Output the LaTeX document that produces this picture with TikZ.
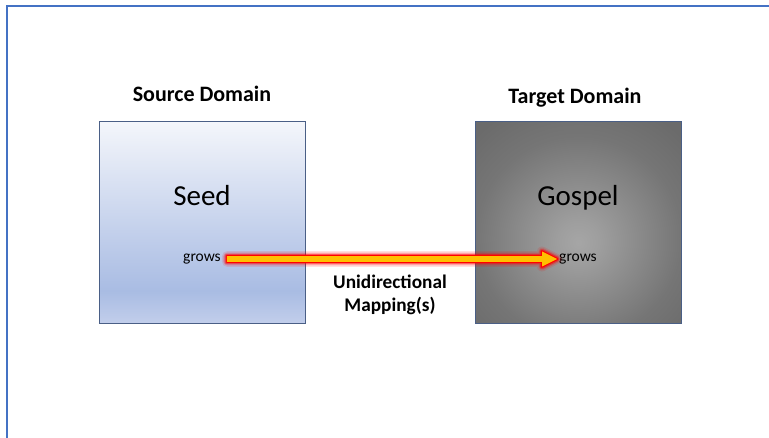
\documentclass[tikz,border=0pt]{standalone}
\usepackage{fontspec}
\setmainfont{Carlito}
\usetikzlibrary{calc}
\definecolor{framblue}{HTML}{4472C4}
\definecolor{boxedge}{HTML}{4A5F86}
\definecolor{seedtop}{HTML}{F4F6FB}
\definecolor{seedmid}{HTML}{A9BCE3}
\definecolor{seedbot}{HTML}{C2CEEB}
\definecolor{arrowfill}{HTML}{FFC000}
% the visible part of an axis shading runs from 25bp (bottom) to 75bp (top)
\pgfdeclareverticalshading{seedshade}{100bp}{
  color(0bp)=(seedbot); color(25bp)=(seedbot); color(33bp)=(seedmid);
  color(48bp)=(seedmid!65!seedtop); color(75bp)=(seedtop); color(100bp)=(seedtop)}
\pgfdeclareradialshading{gospelshade}{\pgfpoint{0bp}{-5bp}}{
  color(0bp)=(black!35); color(5bp)=(black!38); color(25bp)=(black!54); color(35bp)=(black!58); color(100bp)=(black!58)}
\tikzset{
  frameline/.style={draw=framblue, line width=2.6pt},
  domainbox/.style={draw=boxedge, line width=0.8pt, minimum width=206pt, minimum height=202pt, inner sep=0pt},
  heading/.style={font=\bfseries\fontsize{22}{26}\selectfont, anchor=base},
  concept/.style={font=\fontsize{29}{33}\selectfont, anchor=base},
  relation/.style={font=\fontsize{15.5}{18}\selectfont, inner sep=1pt},
  maplabel/.style={font=\bfseries\fontsize{19.3}{23.5}\selectfont, align=center},
}
\begin{document}
\begin{tikzpicture}[x=1pt, y=-1pt]
  \useasboundingbox (0,0) rectangle (769,438);
  \fill[white] (0,0) rectangle (769,438);
  % outer frame: only the top and left edges are visible
  \draw[frameline] (7,440) -- (7,6.2) -- (771,6.2);

  % the two domains
  \node[domainbox, shading=seedshade, anchor=north west] (src) at (99,121) {};
  \node[domainbox, shading=gospelshade, anchor=north west] (tgt) at (475,121) {};
  \draw[boxedge, line width=0.8pt] (src.north west) rectangle (src.south east);
  \draw[boxedge, line width=0.8pt] (tgt.north west) rectangle (tgt.south east);

  \node[heading] (srctitle) at (202,101.7) {Source Domain};
  \node[heading] (tgttitle) at (575,104) {Target Domain};

  \node[concept] (seed) at (202,206) {Seed};
  \node[concept] (gospel) at (578,206) {Gospel};

  \node[relation] (gs) at (202,259) {grows};
  \node[relation] (gt) at (578,259) {grows};

  \node[maplabel] (map) at (390,295) {Unidirectional\\Mapping(s)};

  % glowing block arrow from source relation to target relation
  \coordinate (a0) at ($(gs.east)+(5,0)$);
  \coordinate (a1) at ($(gt.west)+(-1,0)$);
  \def\arrowpath{let \p1=(a0), \p2=(a1) in
    (\x1,\y1-2.8) -- (\x2-15,\y1-2.8) -- (\x2-15,\y1-7.5) -- (\x2,\y1)
    -- (\x2-15,\y1+7.5) -- (\x2-15,\y1+2.8) -- (\x1,\y1+2.8) -- cycle}
  \draw[red, opacity=0.12, line width=10pt, line join=round] \arrowpath;
  \draw[red, opacity=0.22, line width=7pt, line join=round] \arrowpath;
  \draw[red, opacity=0.45, line width=4.8pt, line join=round] \arrowpath;
  \draw[red, line width=2.4pt, line join=round, fill=arrowfill] \arrowpath;
  \fill[arrowfill] \arrowpath;
\end{tikzpicture}
\end{document}
